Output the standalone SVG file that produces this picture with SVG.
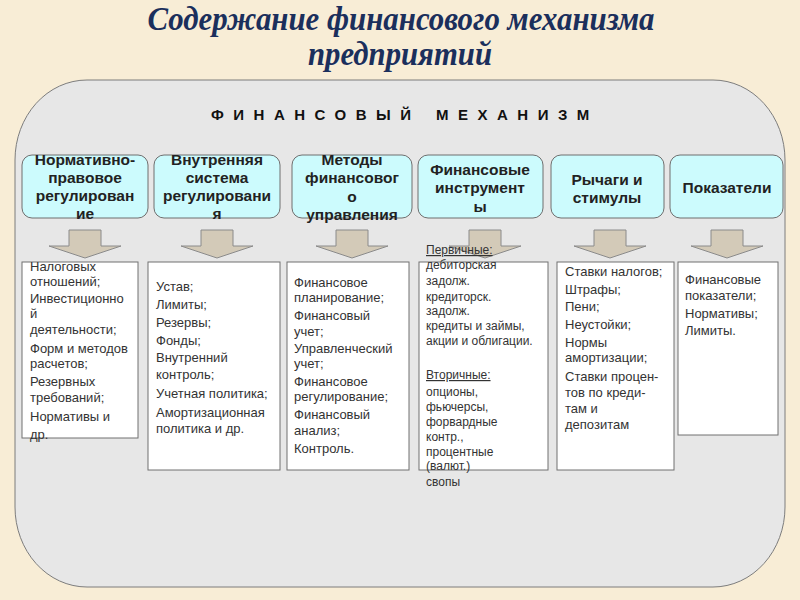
<svg xmlns="http://www.w3.org/2000/svg" width="800" height="600" viewBox="0 0 800 600">
<style>
.title{font-family:"Liberation Serif",serif;font-weight:bold;font-style:italic;font-size:33px;fill:#1b2f5c;text-anchor:middle}
.hdr{font-family:"Liberation Sans",sans-serif;font-weight:bold;font-size:15px;fill:#111;letter-spacing:9.5px}
.top rect{fill:#ccfbfd;stroke:#6f6f6f;stroke-width:1}
.top text{font-family:"Liberation Sans",sans-serif;font-weight:bold;font-size:15.5px;fill:#222;text-anchor:middle}
.bot rect{fill:#fff;stroke:#707070;stroke-width:1}
.bot text{font-family:"Liberation Sans",sans-serif;font-size:13px;fill:#333}
.sm text{font-size:12px}
.arr{fill:#d3cab8;stroke:#8a8a8a;stroke-width:1}
.u{text-decoration:underline}
</style>
<rect x="0" y="0" width="800" height="600" fill="#f8edd6"/>
<text class="title" x="401" y="30" textLength="507" lengthAdjust="spacingAndGlyphs">Содержание финансового механизма</text>
<text class="title" x="400" y="65" textLength="184" lengthAdjust="spacingAndGlyphs">предприятий</text>
<rect id="panel" x="15" y="80" width="770" height="507" rx="72" ry="80" fill="#e7e7e7" stroke="#7d7d7d" stroke-width="1"/>
<g id="header">
<text class="hdr" x="211" y="120">ФИНАНСОВЫЙ</text>
<text class="hdr" x="436" y="120">МЕХАНИЗМ</text>
</g>
<g id="connectors">
<path class="arr" d="M69,230 H101 V246 H121 L85,258 L49,246 H69 Z"/>
<path class="arr" d="M201,230 H233 V246 H253 L217,258 L181,246 H201 Z"/>
<path class="arr" d="M336,230 H368 V246 H388 L352,258 L316,246 H336 Z"/>
<path class="arr" d="M469,230 H501 V246 H521 L485,258 L449,246 H469 Z"/>
<path class="arr" d="M594,230 H626 V246 H646 L610,258 L574,246 H594 Z"/>
<path class="arr" d="M711,230 H743 V246 H763 L727,258 L691,246 H711 Z"/>
</g>
<g id="n1" class="top"><rect x="22" y="155" width="126" height="63" rx="10"/>
<text x="85" y="165">Нормативно-</text><text x="85" y="183">правовое</text><text x="85" y="201">регулирован</text><text x="85" y="219">ие</text></g>
<g id="n2" class="top"><rect x="154" y="155" width="126" height="63" rx="10"/>
<text x="217" y="165">Внутренняя</text><text x="217" y="183">система</text><text x="217" y="201">регулировани</text><text x="217" y="219">я</text></g>
<g id="n3" class="top"><rect x="292" y="155" width="120" height="63" rx="10"/>
<text x="352" y="165">Методы</text><text x="352" y="183">финансовог</text><text x="352" y="202">о</text><text x="352" y="220">управления</text></g>
<g id="n4" class="top"><rect x="418" y="155" width="125" height="63" rx="10"/>
<text x="480" y="175">Финансовые</text><text x="480" y="193">инструмент</text><text x="480" y="212">ы</text></g>
<g id="n5" class="top"><rect x="551" y="155" width="113" height="63" rx="10"/>
<text x="607" y="185">Рычаги и</text><text x="607" y="203">стимулы</text></g>
<g id="n6" class="top"><rect x="670" y="155" width="113" height="63" rx="10"/>
<text x="727" y="193">Показатели</text></g>
<g id="b1" class="bot"><rect x="22" y="262" width="116" height="176"/>
<text x="30" y="271">Налоговых</text><text x="30" y="286">отношений;</text><text x="30" y="303">Инвестиционно</text><text x="30" y="318">й</text><text x="30" y="334">деятельности;</text><text x="30" y="353">Форм и методов</text><text x="30" y="368">расчетов;</text><text x="30" y="386">Резервных</text><text x="30" y="402">требований;</text><text x="30" y="421">Нормативы и</text><text x="30" y="439">др.</text></g>
<g id="b2" class="bot"><rect x="148" y="262" width="132" height="208"/>
<text x="156" y="291">Устав;</text><text x="156" y="309">Лимиты;</text><text x="156" y="327">Резервы;</text><text x="156" y="345">Фонды;</text><text x="156" y="362">Внутренний</text><text x="156" y="379">контроль;</text><text x="156" y="398">Учетная политика;</text><text x="156" y="417">Амортизационная</text><text x="156" y="433">политика и др.</text></g>
<g id="b3" class="bot"><rect x="287" y="262" width="122" height="208"/>
<text x="294" y="287">Финансовое</text><text x="294" y="302">планирование;</text><text x="294" y="320">Финансовый</text><text x="294" y="336">учет;</text><text x="294" y="353">Управленческий</text><text x="294" y="368">учет;</text><text x="294" y="386">Финансовое</text><text x="294" y="401">регулирование;</text><text x="294" y="419">Финансовый</text><text x="294" y="435">анализ;</text><text x="294" y="453">Контроль.</text></g>
<g id="b4" class="bot sm"><rect x="419" y="262" width="129" height="208"/>
<text x="426" y="254" class="u">Первичные:</text><text x="426" y="269">дебиторская</text><text x="426" y="285">задолж.</text><text x="426" y="301">кредиторск.</text><text x="426" y="315">задолж.</text><text x="426" y="330">кредиты и займы,</text><text x="426" y="345">акции и облигации.</text><text x="426" y="379" class="u">Вторичные:</text><text x="426" y="396">опционы,</text><text x="426" y="411">фьючерсы,</text><text x="426" y="426">форвардные</text><text x="426" y="441">контр.,</text><text x="426" y="456">процентные</text><text x="426" y="470">(валют.)</text><text x="426" y="486">свопы</text></g>
<g id="b5" class="bot"><rect x="557" y="262" width="117" height="208"/>
<text x="565" y="276">Ставки налогов;</text><text x="565" y="294">Штрафы;</text><text x="565" y="311">Пени;</text><text x="565" y="329">Неустойки;</text><text x="565" y="347">Нормы</text><text x="565" y="362">амортизации;</text><text x="565" y="381">Ставки процен-</text><text x="565" y="397">тов по креди-</text><text x="565" y="413">там и</text><text x="565" y="429">депозитам</text></g>
<g id="b6" class="bot"><rect x="678" y="262" width="100" height="173"/>
<text x="685" y="284">Финансовые</text><text x="685" y="300">показатели;</text><text x="685" y="318">Нормативы;</text><text x="685" y="335">Лимиты.</text></g>
</svg>
